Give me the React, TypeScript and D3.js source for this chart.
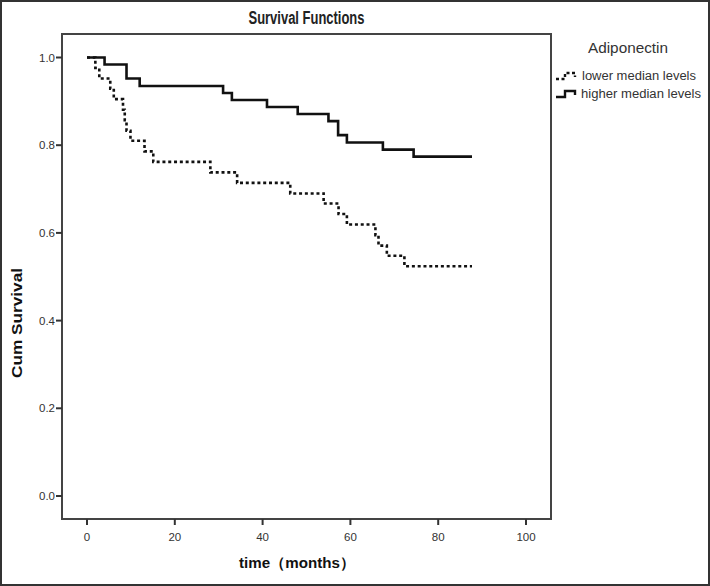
import React from "react";
import * as d3 from "d3";

const W = 710;
const H = 586;

// Kaplan-Meier step data (time in months, cumulative survival)
const higherTimes = [0, 4, 9, 12, 31, 33, 41, 48, 55, 57.2, 59.2, 67.4, 74.4, 87.7];
const higherSurv = [1.0, 0.984, 0.952, 0.935, 0.919, 0.903, 0.887, 0.871, 0.855, 0.823, 0.806, 0.79, 0.774, 0.774];

const lowerTimes = [0, 1.9, 2.8, 5.3, 6.1, 8.2, 8.6, 9.0, 9.9, 13.1, 15.1, 28.1, 34.2, 46.3, 53.9, 57.3, 59.2, 65.7, 66.4, 68.3, 72.3, 87.7];
const lowerSurv = [1.0, 0.976, 0.952, 0.929, 0.905, 0.881, 0.857, 0.833, 0.81, 0.786, 0.762, 0.738, 0.714, 0.69, 0.667, 0.643, 0.619, 0.595, 0.571, 0.548, 0.524, 0.524];

const xTicks = [0, 20, 40, 60, 80, 100];
const yTicks = [0, 0.2, 0.4, 0.6, 0.8, 1.0];

const legendTitle = "Adiponectin";
const legendLabels = ["lower median levels", "higher median levels"];

const FONT = "Arial, 'Liberation Sans', Helvetica, sans-serif";

export default function App() {
  const frame = { left: 62, top: 34, right: 551, bottom: 519 };
  const x = d3.scaleLinear().domain([0, 100]).range([87, 526]);
  const y = d3.scaleLinear().domain([0, 1]).range([496, 57.5]);
  const line = d3
    .line<[number, number]>()
    .x((d) => x(d[0]))
    .y((d) => y(d[1]))
    .curve(d3.curveStepAfter);

  const higher = higherTimes.map((t, i) => [t, higherSurv[i]] as [number, number]);
  const lower = lowerTimes.map((t, i) => [t, lowerSurv[i]] as [number, number]);

  const legendIcon = (x0: number, yc: number) =>
    `M${x0},${yc + 3}H${x0 + 9}V${yc - 3}H${x0 + 19}V${yc + 1}`;

  return (
    <svg width={W} height={H} style={{ position: "absolute", left: 0, top: 0, background: "#fff" }}>
      <rect x={1} y={1} width={W - 2} height={H - 2} fill="#fff" stroke="#333" strokeWidth={2} />
      <text
        x={306.5}
        y={24}
        textAnchor="middle"
        fontFamily={FONT}
        fontWeight="bold"
        fontSize={18}
        fill="#222"
        textLength={116}
        lengthAdjust="spacingAndGlyphs"
      >
        Survival Functions
      </text>
      <rect
        x={frame.left}
        y={frame.top}
        width={frame.right - frame.left}
        height={frame.bottom - frame.top}
        fill="none"
        stroke="#444"
        strokeWidth={2}
      />
      {yTicks.map((t) => (
        <g key={"y" + t}>
          <line x1={frame.left - 6} x2={frame.left} y1={y(t)} y2={y(t)} stroke="#333" strokeWidth={2} />
          <text x={frame.left - 7} y={y(t) + 4} textAnchor="end" fontFamily={FONT} fontSize={11.5} fill="#333">
            {d3.format(".1f")(t)}
          </text>
        </g>
      ))}
      {xTicks.map((t) => (
        <g key={"x" + t}>
          <line x1={x(t)} x2={x(t)} y1={frame.bottom} y2={frame.bottom + 6} stroke="#333" strokeWidth={2} />
          <text x={x(t)} y={frame.bottom + 22} textAnchor="middle" fontFamily={FONT} fontSize={11.5} fill="#333">
            {t}
          </text>
        </g>
      ))}
      <text
        transform={`translate(22,323) rotate(-90)`}
        textAnchor="middle"
        fontFamily={FONT}
        fontWeight="bold"
        fontSize={15.5}
        fill="#111"
        textLength={110}
        lengthAdjust="spacingAndGlyphs"
      >
        Cum Survival
      </text>
      <text
        x={297}
        y={568}
        textAnchor="middle"
        fontFamily={FONT}
        fontWeight="bold"
        fontSize={15}
        fill="#111"
        textLength={116}
        lengthAdjust="spacingAndGlyphs"
      >
        time（months）
      </text>
      <path d={line(lower) || ""} fill="none" stroke="#111" strokeWidth={2.6} strokeDasharray="3,2.8" />
      <path d={line(higher) || ""} fill="none" stroke="#111" strokeWidth={2.6} />

      <text
        x={628}
        y={53}
        textAnchor="middle"
        fontFamily={FONT}
        fontSize={14}
        fill="#333"
        textLength={80}
        lengthAdjust="spacingAndGlyphs"
      >
        {legendTitle}
      </text>
      <path d={legendIcon(556, 76)} fill="none" stroke="#111" strokeWidth={2.4} strokeDasharray="3,2.5" />
      <text x={582} y={80} fontFamily={FONT} fontSize={12} fill="#333" textLength={114} lengthAdjust="spacingAndGlyphs">
        {legendLabels[0]}
      </text>
      <path d={legendIcon(556, 94)} fill="none" stroke="#111" strokeWidth={2.4} />
      <text x={581} y={98} fontFamily={FONT} fontSize={12} fill="#333" textLength={120} lengthAdjust="spacingAndGlyphs">
        {legendLabels[1]}
      </text>
    </svg>
  );
}
